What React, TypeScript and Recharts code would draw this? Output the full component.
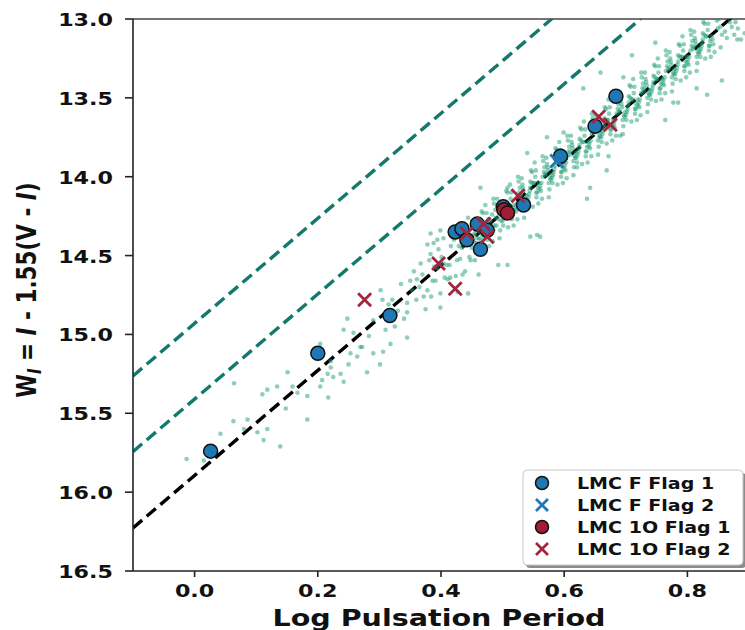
import React from "react";
import { ComposedChart, Legend, Line, ReferenceLine, Scatter, XAxis, YAxis } from "recharts";

type Pt = [number, number];

// Period–Wesenheit plane, LMC Cepheid comparison sample (small green dots)
const lmcCloud: Pt[] = [
  // sparse short-period tail
  [-0.013, 15.79], [0.015, 15.8], [0.042, 15.63], [0.064, 15.31], [0.063, 15.55], [0.086, 15.54],
  [0.08, 15.6], [0.102, 15.62], [0.112, 15.67], [0.118, 15.6], [0.139, 15.71], [0.183, 15.54],
  [0.148, 15.47], [0.11, 15.38], [0.118, 15.35], [0.134, 15.33], [0.151, 15.24], [0.159, 15.33],
  [0.167, 15.37], [0.183, 15.39], [0.217, 15.4], [0.204, 15.33], [0.207, 15.29], [0.216, 15.25],
  [0.221, 15.21], [0.225, 15.27], [0.242, 15.3], [0.237, 15.25], [0.221, 15.17], [0.253, 15.12],
  [0.264, 15.14], [0.25, 15.19], [0.204, 15.06], [0.248, 14.9], [0.258, 14.99], [0.269, 15.08],
  [0.29, 15.12], [0.301, 15.19], [0.318, 15.06], [0.28, 15.24], [0.345, 15.02], [0.242, 14.97],
  [0.272, 15.08], [0.302, 14.72], [0.305, 14.78], [0.315, 14.81], [0.29, 14.91], [0.321, 14.78],
  [0.306, 15.11], [0.283, 15.01], [0.378, 14.43], [0.383, 14.49], [0.394, 14.4], [0.367, 14.55],
  [0.356, 14.6], [0.361, 14.65], [0.375, 14.84], [0.345, 14.8], [0.353, 14.72], [0.404, 14.55],
  [0.415, 14.64], [0.435, 14.62], [0.448, 14.53], [0.427, 14.73], [0.461, 14.62], [0.399, 14.34],
  [0.383, 14.36], [0.33, 14.85], [0.335, 14.68], [0.34, 14.9], [0.325, 14.95], [0.36, 14.78],
  [0.365, 14.7], [0.37, 14.62], [0.35, 14.66], [0.345, 14.86], [0.372, 14.76], [0.31, 14.97],
  [0.32, 14.9],
  // 0.38 - 0.45
  [0.381, 14.53], [0.386, 14.66], [0.384, 14.76], [0.389, 14.57],
  [0.391, 14.66], [0.396, 14.46], [0.394, 14.58], [0.399, 14.74],
  [0.401, 14.51], [0.406, 14.64], [0.404, 14.39], [0.409, 14.56],
  [0.411, 14.65], [0.416, 14.44], [0.414, 14.56], [0.419, 14.37],
  [0.421, 14.4], [0.426, 14.53], [0.424, 14.63], [0.429, 14.44],
  [0.431, 14.52], [0.436, 14.32], [0.434, 14.45], [0.439, 14.6],
  [0.441, 14.38], [0.446, 14.51], [0.444, 14.26], [0.449, 14.43],
  // main band
  [0.451, 14.28], [0.458, 14.42], [0.454, 14.36], [0.456, 14.48], [0.452, 14.32], [0.459, 14.39], [0.455, 14.53],
  [0.461, 14.44], [0.468, 14.23], [0.464, 14.35], [0.466, 14.22], [0.462, 14.39], [0.469, 14.45], [0.465, 14.29],
  [0.471, 14.31], [0.478, 14.44], [0.474, 14.23], [0.476, 14.37], [0.472, 14.18], [0.479, 14.31], [0.475, 14.4],
  [0.481, 14.33], [0.488, 14.21], [0.484, 14.41], [0.486, 14.17], [0.482, 14.36], [0.489, 14.26], [0.485, 14.14],
  [0.491, 14.14], [0.498, 14.28], [0.494, 14.22], [0.496, 14.34], [0.492, 14.18], [0.499, 14.25], [0.495, 14.39],
  [0.501, 14.31], [0.508, 14.1], [0.504, 14.22], [0.506, 14.09], [0.502, 14.26], [0.509, 14.32], [0.505, 14.16],
  [0.511, 14.18], [0.518, 14.31], [0.514, 14.1], [0.516, 14.24], [0.512, 14.05], [0.519, 14.18], [0.515, 14.27],
  [0.521, 14.19], [0.528, 14.07], [0.524, 14.27], [0.526, 14.03], [0.522, 14.22], [0.529, 14.12], [0.525, 14.0],
  [0.531, 14.01], [0.538, 14.15], [0.534, 14.09], [0.536, 14.21], [0.532, 14.05], [0.539, 14.12], [0.535, 14.26],
  [0.541, 14.18], [0.548, 13.97], [0.544, 14.09], [0.546, 13.96], [0.542, 14.13], [0.549, 14.19], [0.545, 14.03],
  [0.551, 14.04], [0.558, 14.17], [0.554, 13.96], [0.556, 14.1], [0.552, 13.91], [0.559, 14.04], [0.555, 14.13],
  [0.561, 14.06], [0.568, 13.94], [0.564, 14.14], [0.566, 13.9], [0.562, 14.09], [0.569, 13.99], [0.565, 13.87],
  [0.571, 13.88], [0.578, 14.02], [0.574, 13.96], [0.576, 14.08], [0.572, 13.92], [0.579, 13.99], [0.575, 14.13],
  [0.581, 14.04], [0.588, 13.83], [0.584, 13.95], [0.586, 13.82], [0.582, 13.99], [0.589, 14.05], [0.585, 13.89],
  [0.591, 13.91], [0.598, 14.04], [0.594, 13.83], [0.596, 13.97], [0.592, 13.78], [0.599, 13.91], [0.595, 14.0],
  [0.601, 13.93], [0.608, 13.81], [0.604, 14.01], [0.606, 13.77], [0.602, 13.96], [0.609, 13.86], [0.605, 13.74],
  [0.611, 13.74], [0.618, 13.88], [0.614, 13.82], [0.616, 13.94], [0.612, 13.78], [0.619, 13.85], [0.615, 13.99],
  [0.621, 13.91], [0.628, 13.7], [0.624, 13.82], [0.626, 13.69], [0.622, 13.86], [0.629, 13.92], [0.625, 13.76],
  [0.631, 13.78], [0.638, 13.91], [0.634, 13.7], [0.636, 13.84], [0.632, 13.65], [0.639, 13.78], [0.635, 13.87],
  [0.641, 13.79], [0.648, 13.67], [0.644, 13.87], [0.646, 13.63], [0.642, 13.82], [0.649, 13.72], [0.645, 13.6],
  [0.651, 13.61], [0.658, 13.75], [0.654, 13.69], [0.656, 13.81], [0.652, 13.65], [0.659, 13.72], [0.655, 13.86],
  [0.661, 13.78], [0.668, 13.57], [0.664, 13.69], [0.666, 13.56], [0.662, 13.73], [0.669, 13.79], [0.665, 13.63],
  [0.671, 13.64], [0.678, 13.77], [0.674, 13.56], [0.676, 13.7], [0.672, 13.51], [0.679, 13.64], [0.675, 13.73],
  [0.681, 13.66], [0.688, 13.54], [0.684, 13.74], [0.686, 13.5], [0.682, 13.69], [0.689, 13.59], [0.685, 13.47],
  [0.691, 13.48], [0.698, 13.62], [0.694, 13.56], [0.696, 13.68], [0.692, 13.52], [0.699, 13.59], [0.695, 13.73],
  [0.701, 13.64], [0.708, 13.43], [0.704, 13.55], [0.706, 13.42], [0.702, 13.59], [0.709, 13.65], [0.705, 13.49],
  [0.711, 13.51], [0.718, 13.64], [0.714, 13.43], [0.716, 13.57], [0.712, 13.38], [0.719, 13.51], [0.715, 13.6],
  [0.721, 13.53], [0.728, 13.41], [0.724, 13.61], [0.726, 13.37], [0.722, 13.56], [0.729, 13.46], [0.725, 13.34],
  [0.731, 13.34], [0.738, 13.48], [0.734, 13.42], [0.736, 13.54], [0.732, 13.38], [0.739, 13.45], [0.735, 13.59],
  [0.741, 13.51], [0.748, 13.3], [0.744, 13.42], [0.746, 13.29], [0.742, 13.46], [0.749, 13.52], [0.745, 13.36],
  [0.751, 13.38], [0.758, 13.51], [0.754, 13.3], [0.756, 13.44], [0.752, 13.25], [0.759, 13.38], [0.755, 13.47],
  [0.761, 13.39], [0.768, 13.27], [0.764, 13.47], [0.766, 13.23], [0.762, 13.42], [0.769, 13.32], [0.765, 13.2],
  [0.771, 13.21], [0.778, 13.35], [0.774, 13.29], [0.776, 13.41], [0.772, 13.25], [0.779, 13.32], [0.775, 13.46],
  [0.781, 13.38], [0.788, 13.17], [0.784, 13.29], [0.786, 13.16], [0.782, 13.33], [0.789, 13.39], [0.785, 13.23],
  [0.791, 13.24], [0.798, 13.37], [0.794, 13.16], [0.796, 13.3], [0.792, 13.11], [0.799, 13.24], [0.795, 13.33],
  [0.801, 13.26], [0.808, 13.14], [0.804, 13.34], [0.806, 13.1], [0.802, 13.29], [0.809, 13.19], [0.805, 13.07],
  [0.811, 13.08], [0.818, 13.22], [0.814, 13.16], [0.816, 13.28], [0.812, 13.12], [0.819, 13.19], [0.815, 13.33],
  [0.821, 13.24], [0.828, 13.03], [0.824, 13.15], [0.826, 13.02], [0.822, 13.19], [0.829, 13.25], [0.825, 13.09],
  [0.831, 13.11], [0.838, 13.24], [0.834, 13.03], [0.836, 13.17], [0.832, 12.98], [0.839, 13.11], [0.835, 13.2],
  [0.841, 13.13], [0.848, 13.01], [0.844, 13.21], [0.846, 12.97], [0.842, 13.16], [0.849, 13.06], [0.845, 12.94],
  // band core
  [0.453, 14.41], [0.457, 14.34], [0.45, 14.45], [0.455, 14.37], [0.463, 14.3], [0.467, 14.37], [0.46, 14.34], [0.465, 14.4],
  [0.473, 14.34], [0.477, 14.27], [0.47, 14.38], [0.475, 14.3], [0.483, 14.24], [0.487, 14.31], [0.48, 14.28], [0.485, 14.34],
  [0.493, 14.27], [0.497, 14.2], [0.49, 14.31], [0.495, 14.23], [0.503, 14.24], [0.507, 14.17], [0.5, 14.28], [0.505, 14.2],
  [0.513, 14.14], [0.517, 14.21], [0.51, 14.18], [0.515, 14.24], [0.523, 14.17], [0.527, 14.1], [0.52, 14.21], [0.525, 14.13],
  [0.533, 14.07], [0.537, 14.14], [0.53, 14.11], [0.535, 14.17], [0.543, 14.11], [0.547, 14.04], [0.54, 14.15], [0.545, 14.07],
  [0.553, 14.0], [0.557, 14.07], [0.55, 14.04], [0.555, 14.1], [0.563, 14.04], [0.567, 13.97], [0.56, 14.08], [0.565, 14.0],
  [0.573, 13.94], [0.577, 14.01], [0.57, 13.98], [0.575, 14.04], [0.583, 13.97], [0.587, 13.9], [0.58, 14.01], [0.585, 13.93],
  [0.593, 13.87], [0.597, 13.94], [0.59, 13.91], [0.595, 13.97], [0.603, 13.91], [0.607, 13.84], [0.6, 13.95], [0.605, 13.87],
  [0.613, 13.8], [0.617, 13.87], [0.61, 13.84], [0.615, 13.9], [0.623, 13.84], [0.627, 13.77], [0.62, 13.88], [0.625, 13.8],
  [0.633, 13.74], [0.637, 13.81], [0.63, 13.78], [0.635, 13.84], [0.643, 13.77], [0.647, 13.7], [0.64, 13.81], [0.645, 13.73],
  [0.653, 13.67], [0.657, 13.74], [0.65, 13.71], [0.655, 13.77], [0.663, 13.71], [0.667, 13.64], [0.66, 13.75], [0.665, 13.67],
  [0.673, 13.6], [0.677, 13.67], [0.67, 13.64], [0.675, 13.7], [0.683, 13.64], [0.687, 13.57], [0.68, 13.68], [0.685, 13.6],
  [0.693, 13.54], [0.697, 13.61], [0.69, 13.58], [0.695, 13.64], [0.703, 13.57], [0.707, 13.5], [0.7, 13.61], [0.705, 13.53],
  [0.713, 13.47], [0.717, 13.54], [0.71, 13.51], [0.715, 13.57], [0.723, 13.51], [0.727, 13.44], [0.72, 13.55], [0.725, 13.47],
  [0.733, 13.4], [0.737, 13.47], [0.73, 13.44], [0.735, 13.5], [0.743, 13.44], [0.747, 13.37], [0.74, 13.48], [0.745, 13.4],
  [0.753, 13.34], [0.757, 13.41], [0.75, 13.38], [0.755, 13.44], [0.763, 13.37], [0.767, 13.3], [0.76, 13.41], [0.765, 13.33],
  [0.773, 13.27], [0.777, 13.34], [0.77, 13.31], [0.775, 13.37], [0.783, 13.31], [0.787, 13.24], [0.78, 13.35], [0.785, 13.27],
  [0.793, 13.2], [0.797, 13.27], [0.79, 13.24], [0.795, 13.3], [0.803, 13.24], [0.807, 13.17], [0.8, 13.28], [0.805, 13.2],
  [0.813, 13.14], [0.817, 13.21], [0.81, 13.18], [0.815, 13.24], [0.823, 13.17], [0.827, 13.1], [0.82, 13.21], [0.825, 13.13],
  [0.833, 13.07], [0.837, 13.14], [0.83, 13.11], [0.835, 13.17],
  // long-period end
  [0.851, 13.0], [0.856, 13.1], [0.854, 13.18], [0.859, 12.96], [0.853, 13.05],
  [0.861, 13.08], [0.866, 12.99], [0.864, 13.12], [0.869, 13.02],
  [0.872, 13.05], [0.876, 13.1], [0.878, 13.02], [0.882, 13.06], [0.887, 13.13], [0.893, 13.09],
  // scattered outliers
  [0.856, 13.39], [0.832, 13.48], [0.815, 13.44], [0.764, 13.64], [0.785, 13.53], [0.881, 13.13],
  [0.631, 13.44], [0.659, 13.34], [0.696, 13.37], [0.71, 13.23], [0.748, 13.15], [0.599, 13.72],
  [0.572, 13.75], [0.621, 13.94], [0.642, 14.07], [0.669, 13.96], [0.691, 13.74], [0.672, 13.87],
  [0.777, 13.53], [0.637, 14.14], [0.54, 13.85], [0.508, 14.07], [0.556, 14.37], [0.493, 14.56],
  [0.508, 14.56], [0.464, 14.07], [0.388, 14.42], [0.378, 14.72], [0.399, 14.83], [0.444, 14.74],
  [0.545, 14.38], [0.561, 14.38],
];

const fFlag1: Pt[] = [
  [0.026, 15.74], [0.2, 15.12], [0.317, 14.88], [0.423, 14.35], [0.434, 14.33], [0.442, 14.4],
  [0.459, 14.3], [0.464, 14.46], [0.475, 14.34], [0.501, 14.19], [0.534, 14.18], [0.594, 13.87],
  [0.65, 13.68], [0.684, 13.49],
];
const fFlag2: Pt[] = [[0.588, 13.9], [0.47, 14.3]];
const oFlag1: Pt[] = [[0.502, 14.21], [0.508, 14.23]];
const oFlag2: Pt[] = [
  [0.276, 14.78], [0.396, 14.55], [0.423, 14.71], [0.442, 14.36], [0.469, 14.3], [0.475, 14.38],
  [0.525, 14.12], [0.656, 13.62], [0.675, 13.67],
];

// dashed relations, end points at the x limits
const plRelation: Pt[] = [[-0.1, 16.227], [0.9, 12.897]];
const offsetOne: Pt[] = [[-0.1, 15.743], [0.9, 12.413]];
const offsetTwo: Pt[] = [[-0.1, 15.263], [0.9, 11.933]];

const xTicks = [0, 0.2, 0.4, 0.6, 0.8];
const yTicks = [13, 13.5, 14, 14.5, 15, 15.5, 16, 16.5];

const legendItems = [
  { label: "LMC F Flag 1", kind: "circle", color: "#1f77b4" },
  { label: "LMC F Flag 2", kind: "cross", color: "#1f77b4" },
  { label: "LMC 1O Flag 1", kind: "circle", color: "#a11d36" },
  { label: "LMC 1O Flag 2", kind: "cross", color: "#a3263f" },
];

const FONT = "'DejaVu Sans', sans-serif";
const STRETCH = 1.27;
const BLUE = "#1f77b4";
const RED = "#a11d36";
const RED_X = "#a3263f";
const TEAL = "#127a6d";
const DASH = "12 6";

const toRows = (pts: Pt[]) => pts.map(([x, y]) => ({ x, y }));

function Dot(props: any) {
  return <circle cx={props.cx} cy={props.cy} r={2.3} fill="#1d9f77" fillOpacity={0.5} />;
}

function circleShape(color: string) {
  return (props: any) => (
    <circle cx={props.cx} cy={props.cy} r={7} fill={color} stroke="#111" strokeWidth={1.5} />
  );
}

function crossPath(cx: number, cy: number, s: number) {
  return `M${cx - s},${cy - s}L${cx + s},${cy + s}M${cx - s},${cy + s}L${cx + s},${cy - s}`;
}

function crossShape(color: string) {
  return (props: any) => (
    <path d={crossPath(props.cx, props.cy, 6.5)} stroke={color} strokeWidth={2.8} fill="none" />
  );
}

function XTick({ x, y, payload }: any) {
  return (
    <text
      transform={`translate(${x},${y + 18}) scale(${STRETCH},1)`}
      textAnchor="middle"
      fontFamily={FONT}
      fontWeight={700}
      fontSize={17.5}
      fill="#111"
    >
      {Number(payload.value).toFixed(1)}
    </text>
  );
}

function YTick({ x, y, payload }: any) {
  return (
    <text
      transform={`translate(${x},${y + 7}) scale(${STRETCH},1)`}
      textAnchor="end"
      fontFamily={FONT}
      fontWeight={700}
      fontSize={17.5}
      fill="#111"
    >
      {Number(payload.value).toFixed(1)}
    </text>
  );
}

function XTitle() {
  return (
    <text
      transform={`translate(439,626) scale(${STRETCH},1)`}
      textAnchor="middle"
      fontFamily={FONT}
      fontWeight={700}
      fontSize={22.5}
      fill="#111"
    >
      Log Pulsation Period
    </text>
  );
}

function YTitle() {
  return (
    <text
      transform={`translate(36,290) scale(${STRETCH},1) rotate(-90)`}
      textAnchor="middle"
      fontFamily={FONT}
      fontWeight={700}
      fontSize={21.5}
      fill="#111"
    >
      W
      <tspan fontSize={15} fontStyle="italic" dy={4}>I</tspan>
      <tspan dy={-4}> = </tspan>
      <tspan fontStyle="italic">I</tspan>
      <tspan> - 1.55(V - </tspan>
      <tspan fontStyle="italic">I</tspan>
      <tspan>)</tspan>
    </text>
  );
}

function LegendBox() {
  return (
    <svg width={230} height={104} style={{ display: "block" }}>
      <rect x={6} y={6} width={220} height={95} rx={4} fill="#8c8c8c" />
      <rect x={3} y={3} width={220} height={95} rx={4} fill="#fff" stroke="#c8c8c8" />
      {legendItems.map((item, i) => {
        const cy = 16 + i * 22;
        return (
          <g key={item.label}>
            {item.kind === "circle" ? (
              <circle cx={22} cy={cy} r={6.5} fill={item.color} stroke="#111" strokeWidth={1.5} />
            ) : (
              <path d={crossPath(22, cy, 6)} stroke={item.color} strokeWidth={2.8} fill="none" />
            )}
            <text
              transform={`translate(57,${cy + 5.5}) scale(${STRETCH},1)`}
              fontFamily={FONT}
              fontWeight={700}
              fontSize={15}
              fill="#111"
            >
              {item.label}
            </text>
          </g>
        );
      })}
    </svg>
  );
}

export default function App() {
  const axisStroke = { stroke: "#222", strokeWidth: 1.6 };

  return (
    <div
      style={{
        position: "absolute",
        left: 0,
        top: 0,
        width: 745,
        height: 630,
        overflow: "hidden",
        background: "#fff",
      }}
    >
      <ComposedChart width={760} height={630} margin={{ top: 19, right: 11, bottom: 0, left: 0 }}>
        <XAxis
          type="number"
          dataKey="x"
          domain={[-0.1, 0.9]}
          ticks={xTicks}
          allowDataOverflow
          height={59}
          axisLine={axisStroke}
          tickLine={axisStroke}
          tickSize={6}
          tickMargin={2}
          tick={<XTick />}
          label={<XTitle />}
        />
        <YAxis
          type="number"
          dataKey="y"
          domain={[13, 16.5]}
          ticks={yTicks}
          reversed
          allowDataOverflow
          interval={0}
          width={133}
          axisLine={axisStroke}
          tickLine={axisStroke}
          tickSize={8}
          tickMargin={12}
          tick={<YTick />}
          label={<YTitle />}
        />
        <ReferenceLine y={13} stroke="#444" strokeWidth={1.5} />

        <Line data={toRows(offsetTwo)} dataKey="y" stroke={TEAL} strokeWidth={3.4} strokeDasharray={DASH}
          dot={false} activeDot={false} isAnimationActive={false} legendType="none" />
        <Line data={toRows(offsetOne)} dataKey="y" stroke={TEAL} strokeWidth={3.4} strokeDasharray={DASH}
          dot={false} activeDot={false} isAnimationActive={false} legendType="none" />

        <Scatter data={toRows(lmcCloud)} shape={Dot} isAnimationActive={false} legendType="none" />

        <Line data={toRows(plRelation)} dataKey="y" stroke="#000" strokeWidth={3.4} strokeDasharray={DASH}
          dot={false} activeDot={false} isAnimationActive={false} legendType="none" />

        <Scatter name="LMC F Flag 1" data={toRows(fFlag1)} shape={circleShape(BLUE)} isAnimationActive={false} />
        <Scatter name="LMC F Flag 2" data={toRows(fFlag2)} shape={crossShape(BLUE)} isAnimationActive={false} />
        <Scatter name="LMC 1O Flag 1" data={toRows(oFlag1)} shape={circleShape(RED)} isAnimationActive={false} />
        <Scatter name="LMC 1O Flag 2" data={toRows(oFlag2)} shape={crossShape(RED_X)} isAnimationActive={false} />

        <Legend
          layout="vertical"
          align="center"
          verticalAlign="middle"
          content={<LegendBox />}
          wrapperStyle={{ left: 520, top: 467, width: 230, height: 104 }}
        />
      </ComposedChart>
    </div>
  );
}
